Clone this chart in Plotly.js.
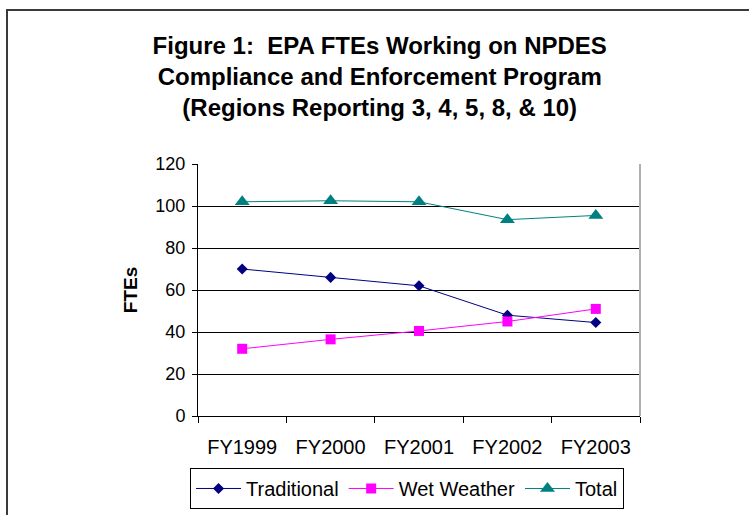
<!DOCTYPE html>
<html>
<head>
<meta charset="utf-8">
<script src="https://cdn.plot.ly/plotly-3.0.1.min.js"></script>
<style>
  html, body { margin: 0; padding: 0; background: #fff; }
  #wrap { position: relative; width: 749px; height: 515px; }
  #chart { width: 749px; height: 515px; }
  #frame { position: absolute; left: 6px; top: 9px; right: -10px; bottom: -10px;
           border-left: 2px solid #3a3a3a; border-top: 2px solid #3a3a3a; pointer-events: none; }
</style>
</head>
<body>
<div id="wrap">
  <div id="chart"></div>
  <div id="frame"></div>
</div>
<script>
const years = ["FY1999", "FY2000", "FY2001", "FY2002", "FY2003"];
const traditional = [70, 66, 62, 48, 44.5];
const wetWeather = [32, 36.5, 40.5, 45, 51];
const total = [102, 102.5, 102, 93.5, 95.5];
const yTicks = [0, 20, 40, 60, 80, 100, 120];

const font = "Arial, 'Liberation Sans', sans-serif";

const traces = [
  { x: years, y: traditional, name: "Traditional", type: "scatter", mode: "lines+markers",
    line: { color: "#000080", width: 1 },
    marker: { symbol: "diamond", size: 8.5, color: "#000080" } },
  { x: years, y: wetWeather, name: "Wet Weather", type: "scatter", mode: "lines+markers",
    line: { color: "#FF00FF", width: 1 },
    marker: { symbol: "square", size: 10, color: "#FF00FF" } },
  { x: years, y: total, name: "Total", type: "scatter", mode: "lines+markers",
    line: { color: "#008080", width: 1 },
    marker: { symbol: "triangle-up", size: 13, color: "#008080" } }
];

const layout = {
  width: 749, height: 515,
  margin: { l: 198, r: 109, t: 164, b: 99, autoexpand: false },
  paper_bgcolor: "#ffffff", plot_bgcolor: "#ffffff",
  font: { family: font, color: "#000" },
  title: {
    text: "<b>Figure 1:  EPA FTEs Working on NPDES<br>Compliance and Enforcement Program<br>(Regions Reporting 3, 4, 5, 8, & 10)</b>",
    font: { family: font, size: 24, color: "#000" },
    x: 0.507, xref: "container", xanchor: "center",
    y: 0.896, yref: "container", yanchor: "top"
  },
  xaxis: {
    type: "category", automargin: false, range: [-0.5, 4.5],
    showgrid: false, zeroline: false,
    showline: true, linecolor: "#000", linewidth: 1,
    ticks: "outside", tickson: "boundaries", ticklen: 6, tickcolor: "#000",
    tickfont: { family: font, size: 20, color: "#000" },
    ticklabelstandoff: 13
  },
  yaxis: {
    range: [0, 120], tickvals: yTicks, automargin: false,
    showgrid: true, gridcolor: "#000", gridwidth: 1, zeroline: false,
    showline: true, linecolor: "#000", linewidth: 1,
    ticks: "outside", ticklen: 5, tickcolor: "#000",
    tickfont: { family: font, size: 18, color: "#000" },
    ticklabelstandoff: 3,
    title: { text: "<b>FTEs</b>", font: { family: font, size: 19, color: "#000" }, standoff: 12 }
  },
  showlegend: true,
  legend: {
    orientation: "h", xref: "container", yref: "container",
    x: 0.2537, xanchor: "left", y: 0.0913, yanchor: "top",
    bordercolor: "#000", borderwidth: 1, bgcolor: "#fff",
    font: { family: font, size: 20, color: "#000" },
    itemwidth: 45, tracegroupgap: 0
  },
  shapes: [
    { type: "line", xref: "paper", yref: "paper", x0: 1, x1: 1, y0: 0, y1: 1,
      line: { color: "#b0b0b0", width: 2 } }
  ]
};

Plotly.newPlot("chart", traces, layout, { displayModeBar: false, staticPlot: true });
</script>
</body>
</html>
